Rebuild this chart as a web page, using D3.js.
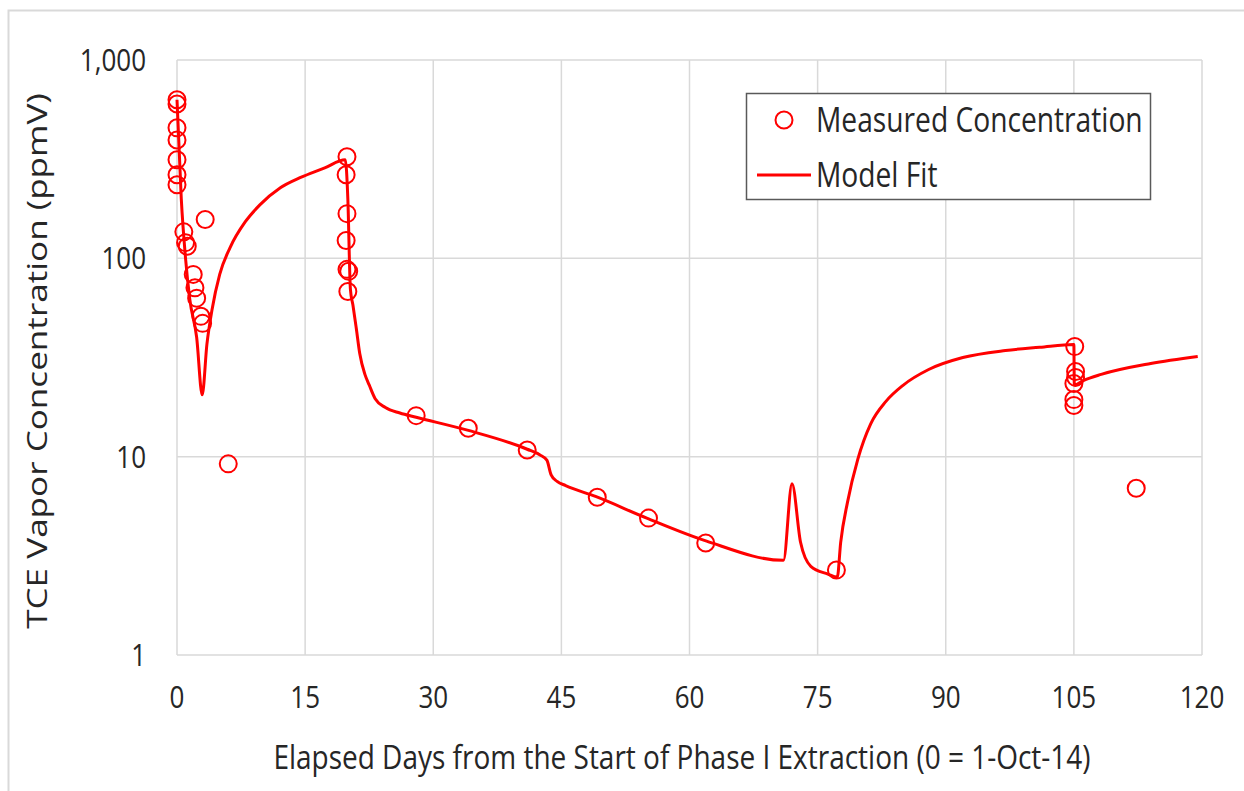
<!DOCTYPE html>
<html>
<head>
<meta charset="utf-8">
<script src="https://cdn.jsdelivr.net/npm/d3@7/dist/d3.min.js"></script>
<style>
  html, body { margin: 0; padding: 0; background: #fff; }
  svg { display: block; }
  text { font-family: "Open Sans", "Noto Sans", sans-serif; fill: #262626; }
</style>
</head>
<body>
<svg id="chart" width="1244" height="791"></svg>
<script>
// Measured TCE vapor concentrations (ppmV) vs elapsed days
const measuredDays = [0, 0, 0, 0, 0, 0, 0, 0.8, 1.0, 1.2, 3.3, 1.9, 2.1, 2.3, 2.8, 3.0,
  6.0, 19.9, 19.8, 19.9, 19.8, 19.9, 20.1, 20.0, 28.0, 34.1, 41.0, 49.2, 55.2, 61.9, 77.2,
  105.1, 105.2, 105.2, 105.0, 105.0, 105.0, 112.3];
const measuredConc = [630, 600, 455, 395, 314, 264, 235, 136, 120, 115, 157, 83, 71, 63, 51, 47,
  9.2, 325, 264, 168, 123, 88, 86, 68, 16.1, 13.9, 10.8, 6.24, 4.9, 3.67, 2.68,
  35.9, 26.9, 25.1, 23.4, 19.4, 18.1, 6.93];

// Model fit curve
const modelDays = [0, 0.5, 1.0, 1.5, 2.3, 2.95, 3.5, 4.1, 5.0, 6.2, 8.0, 9.7, 12.1, 14.4, 17.3,
  19.7, 20.0, 20.3, 20.6, 21.0, 21.4, 22.0, 22.5, 23.2, 24.4, 26.1, 28, 34, 41, 42.5,
  43.3, 43.8, 44.5, 45.5, 49, 55, 62, 71, 72.0, 73, 74.2, 76.2, 77.3, 77.7, 78.5, 79.7, 81.2, 83, 85,
  88, 92, 97, 101, 105, 105.05, 106.1, 108.2, 114, 119.5];
const modelConc = [630, 200, 100, 62, 40, 20.5, 36.8, 55, 83, 113, 153, 186, 227, 255, 286,
  314, 200, 70, 58, 44, 33, 26, 23, 19.6, 17.7, 16.6, 15.8, 13.6, 10.9, 10.2,
  9.6, 8.1, 7.5, 7.15, 6.3, 4.9, 3.75, 3.0, 7.3, 3.7, 2.8, 2.56, 2.47, 3.7, 5.9, 9.7, 14.6, 19, 22.9,
  27.5, 31.6, 34.3, 35.6, 36.8, 23, 24.2, 26, 29.5, 32];

const xTicks = [0, 15, 30, 45, 60, 75, 90, 105, 120];
const yTicks = [1, 10, 100, 1000];

const legendLabels = ["Measured Concentration", "Model Fit"];
const xTitle = "Elapsed Days from the Start of Phase I Extraction (0 = 1-Oct-14)";
const yTitle = "TCE Vapor Concentration (ppmV)";

const svg = d3.select("#chart");
const red = "#ff0000";
const grid = "#d9d9d9";
const tall = 1.2;   // vertical stretch of the chart's lettering

const plot = { left: 177, right: 1202, top: 60, bottom: 655 };

const x = d3.scaleLinear().domain([0, 120]).range([plot.left, plot.right]);
const y = d3.scaleLog().domain([1, 1000]).range([plot.bottom, plot.top]);

// outer chart frame
svg.append("rect")
  .attr("x", 8.5).attr("y", 10.5)
  .attr("width", 1250).attr("height", 800)
  .attr("fill", "none").attr("stroke", grid).attr("stroke-width", 2);

// gridlines
svg.append("g").selectAll("line").data(xTicks).join("line")
  .attr("x1", d => x(d)).attr("x2", d => x(d))
  .attr("y1", plot.top).attr("y2", plot.bottom)
  .attr("stroke", grid).attr("stroke-width", 1.5);
svg.append("g").selectAll("line").data(yTicks).join("line")
  .attr("x1", plot.left).attr("x2", plot.right)
  .attr("y1", d => y(d)).attr("y2", d => y(d))
  .attr("stroke", grid).attr("stroke-width", 1.5);

// tick labels
const fmtX = d3.format("d"), fmtY = d3.format(",");
svg.append("g").selectAll("text").data(xTicks).join("text")
  .attr("transform", d => `translate(${x(d)},${plot.bottom + 42}) scale(1,${tall})`)
  .attr("text-anchor", "middle")
  .attr("dy", "0.35em")
  .style("font-size", "26px")
  .text(fmtX);
svg.append("g").selectAll("text").data(yTicks).join("text")
  .attr("transform", d => `translate(${plot.left - 31},${y(d)}) scale(1,${tall})`)
  .attr("text-anchor", "end")
  .attr("dy", "0.35em")
  .style("font-size", "26px")
  .text(fmtY);

// model fit line
const line = d3.line()
  .x((d, i) => x(modelDays[i]))
  .y((d, i) => y(modelConc[i]))
  .curve(d3.curveMonotoneX);
svg.append("path")
  .datum(modelDays)
  .attr("d", line)
  .attr("fill", "none")
  .attr("stroke", red)
  .attr("stroke-width", 3)
  .attr("stroke-linejoin", "round");

// measured points
svg.append("g").selectAll("circle").data(measuredDays).join("circle")
  .attr("cx", (d, i) => x(measuredDays[i]))
  .attr("cy", (d, i) => y(measuredConc[i]))
  .attr("r", 8.5)
  .attr("fill", "none")
  .attr("stroke", red)
  .attr("stroke-width", 2);

// axis titles
svg.append("text")
  .attr("transform", `translate(682,757) scale(1,${tall})`)
  .attr("text-anchor", "middle")
  .attr("dy", "0.35em")
  .style("font-size", "28px")
  .text(xTitle);
svg.append("text")
  .attr("transform", "translate(38,361) rotate(-90) scale(1.3,1)")
  .attr("text-anchor", "middle")
  .attr("dy", "0.35em")
  .style("font-size", "27px")
  .text(yTitle);

// legend
const lg = svg.append("g");
lg.append("rect")
  .attr("x", 746.5).attr("y", 93.5)
  .attr("width", 404).attr("height", 106)
  .attr("fill", "#fff").attr("stroke", "#595959").attr("stroke-width", 1.5);
lg.append("circle")
  .attr("cx", 784).attr("cy", 120).attr("r", 8.5)
  .attr("fill", "none").attr("stroke", red).attr("stroke-width", 2);
lg.append("line")
  .attr("x1", 757).attr("x2", 811).attr("y1", 175).attr("y2", 175)
  .attr("stroke", red).attr("stroke-width", 3);
lg.selectAll("text.lab").data(legendLabels).join("text")
  .attr("class", "lab")
  .attr("transform", (d, i) => `translate(816,${120 + i * 55}) scale(1,${tall})`)
  .attr("dy", "0.35em")
  .style("font-size", "28.2px")
  .text(d => d);
</script>
</body>
</html>
